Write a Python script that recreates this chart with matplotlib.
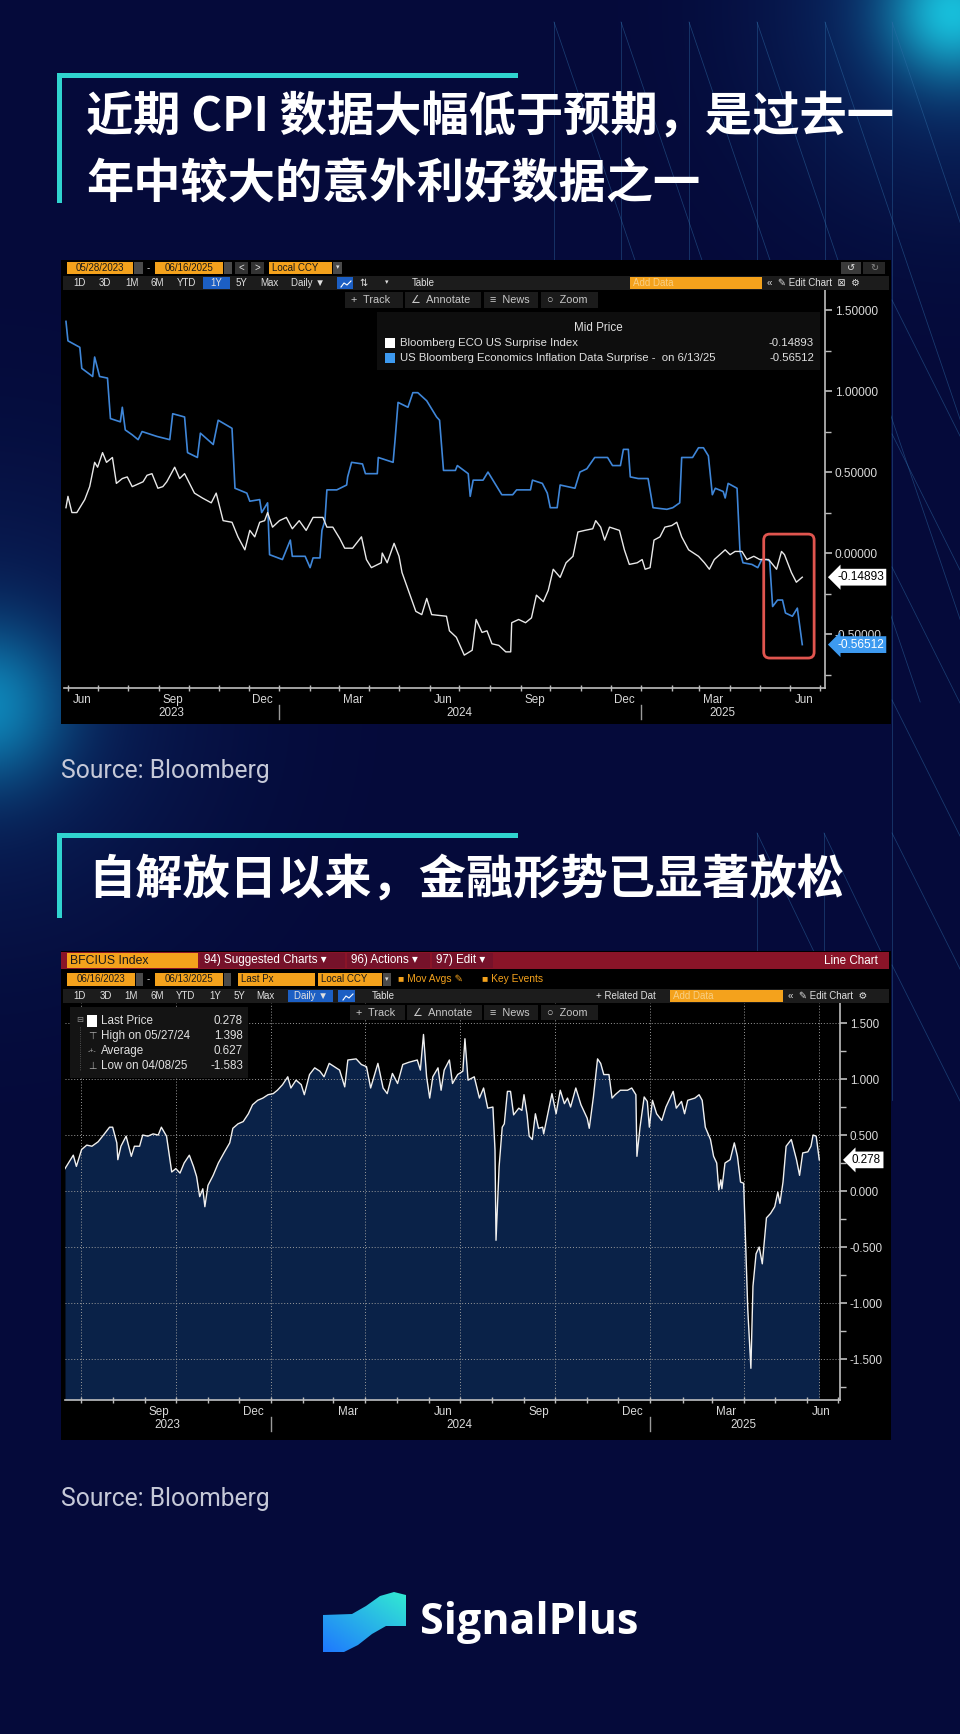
import numpy as np
import pandas as pd
import matplotlib
matplotlib.use('Agg')
import matplotlib.pyplot as plt
import matplotlib.dates as mdates
from matplotlib.patches import Rectangle, FancyBboxPatch, Polygon
from matplotlib.ticker import MultipleLocator, FormatStrFormatter, NullFormatter

plt.rcParams['font.family'] = ['Noto Sans CJK SC', 'DejaVu Sans']
UI = ['Liberation Sans', 'DejaVu Sans']

# ---------------- chart 1: surprise indices ----------------
eco_name = 'Bloomberg ECO US Surprise Index'
infl_name = 'US Bloomberg Economics Inflation Data Surprise -  on 6/13/25'
eco_dates = ['2023-05-30', '2023-06-01', '2023-06-05', '2023-06-10', '2023-06-18', '2023-06-23', '2023-06-28', '2023-07-01', '2023-07-06', '2023-07-10',
             '2023-07-16', '2023-07-20', '2023-07-26', '2023-07-31', '2023-08-05', '2023-08-16', '2023-08-20', '2023-08-25', '2023-08-31', '2023-09-05',
             '2023-09-09', '2023-09-17', '2023-09-22', '2023-09-27', '2023-10-02', '2023-10-07', '2023-10-15', '2023-10-24', '2023-10-29', '2023-11-05',
             '2023-11-14', '2023-11-20', '2023-11-27', '2023-12-02', '2023-12-07', '2023-12-12', '2023-12-17', '2023-12-20', '2023-12-25', '2024-01-01',
             '2024-01-08', '2024-01-14', '2024-01-21', '2024-01-28', '2024-02-04', '2024-02-14', '2024-02-18', '2024-02-24', '2024-03-02', '2024-03-07',
             '2024-03-15', '2024-03-24', '2024-03-29', '2024-04-03', '2024-04-13', '2024-04-14', '2024-04-19', '2024-04-26', '2024-05-01', '2024-05-04',
             '2024-05-18', '2024-05-24', '2024-05-29', '2024-06-03', '2024-06-18', '2024-06-21', '2024-06-28', '2024-07-06', '2024-07-14', '2024-07-18',
             '2024-07-24', '2024-07-29', '2024-08-03', '2024-08-10', '2024-08-17', '2024-08-22', '2024-08-23', '2024-08-30', '2024-09-06', '2024-09-12',
             '2024-09-17', '2024-09-24', '2024-09-29', '2024-10-04', '2024-10-11', '2024-10-17', '2024-10-24', '2024-10-29', '2024-11-05', '2024-11-13',
             '2024-11-16', '2024-11-21', '2024-11-25', '2024-11-30', '2024-12-10', '2024-12-15', '2024-12-20', '2024-12-28', '2025-01-02', '2025-01-05',
             '2025-01-10', '2025-01-14', '2025-01-20', '2025-01-25', '2025-02-01', '2025-02-06', '2025-02-11', '2025-02-18', '2025-02-28', '2025-03-06',
             '2025-03-11', '2025-03-16', '2025-03-27', '2025-04-01', '2025-04-06', '2025-04-13', '2025-04-18', '2025-04-25', '2025-05-01', '2025-05-10',
             '2025-05-18', '2025-05-23', '2025-05-26', '2025-06-02', '2025-06-07', '2025-06-13']
eco_vals = [0.28, 0.35, 0.25, 0.25, 0.33, 0.41, 0.56, 0.53, 0.62, 0.56,
            0.59, 0.43, 0.46, 0.47, 0.41, 0.44, 0.48, 0.49, 0.40, 0.41,
            0.44, 0.53, 0.46, 0.49, 0.43, 0.37, 0.34, 0.31, 0.37, 0.20,
            0.19, 0.10, 0.02, 0.14, 0.10, 0.19, 0.20, 0.25, 0.16, 0.20,
            0.22, 0.15, 0.20, 0.14, 0.22, 0.22, 0.16, 0.16, 0.09, 0.03,
            0.03, 0.10, -0.04, -0.09, -0.06, 0.00, -0.06, 0.06, -0.02, -0.12,
            -0.36, -0.38, -0.28, -0.38, -0.39, -0.48, -0.52, -0.63, -0.60, -0.41,
            -0.49, -0.48, -0.56, -0.57, -0.61, -0.61, -0.43, -0.41, -0.43, -0.40,
            -0.26, -0.30, -0.23, -0.10, -0.15, -0.06, -0.02, 0.13, 0.14, 0.15,
            0.20, 0.16, 0.08, 0.16, 0.14, 0.02, -0.07, -0.06, -0.04, -0.10,
            -0.09, 0.08, 0.10, 0.16, 0.17, 0.19, 0.10, 0.02, -0.02, -0.06,
            -0.10, -0.04, 0.02, -0.01, 0.01, 0.01, -0.04, -0.02, -0.04, -0.04,
            -0.10, 0.01, -0.01, -0.12, -0.18, -0.14893]

infl_dates = ['2023-05-30', '2023-06-01', '2023-06-13', '2023-06-15', '2023-06-26', '2023-06-28', '2023-07-03', '2023-07-11', '2023-07-14', '2023-07-24',
              '2023-07-26', '2023-07-29', '2023-08-05', '2023-08-11', '2023-08-15', '2023-08-30', '2023-09-12', '2023-09-15', '2023-09-27', '2023-09-30',
              '2023-10-10', '2023-10-13', '2023-10-26', '2023-10-31', '2023-11-14', '2023-11-17', '2023-11-29', '2023-12-02', '2023-12-12', '2023-12-14',
              '2023-12-20', '2023-12-22', '2024-01-04', '2024-01-12', '2024-01-14', '2024-01-27', '2024-02-01', '2024-02-04', '2024-02-11', '2024-02-13',
              '2024-02-16', '2024-02-18', '2024-02-28', '2024-03-09', '2024-03-10', '2024-03-14', '2024-03-25', '2024-03-28', '2024-04-09', '2024-04-10',
              '2024-04-25', '2024-04-27', '2024-04-30', '2024-05-10', '2024-05-15', '2024-05-20', '2024-05-29', '2024-06-08', '2024-06-11', '2024-06-15',
              '2024-06-27', '2024-06-29', '2024-07-10', '2024-07-12', '2024-07-15', '2024-07-25', '2024-07-30', '2024-08-04', '2024-08-13', '2024-08-24',
              '2024-08-28', '2024-09-11', '2024-09-13', '2024-09-23', '2024-09-28', '2024-10-01', '2024-10-08', '2024-10-11', '2024-10-26', '2024-10-31',
              '2024-11-07', '2024-11-15', '2024-11-28', '2024-12-03', '2024-12-11', '2024-12-14', '2024-12-19', '2024-12-21', '2024-12-29', '2025-01-08',
              '2025-01-13', '2025-01-27', '2025-02-02', '2025-02-09', '2025-02-11', '2025-02-22', '2025-02-28', '2025-03-05', '2025-03-10', '2025-03-14',
              '2025-03-17', '2025-03-25', '2025-03-27', '2025-03-30', '2025-04-08', '2025-04-11', '2025-04-14', '2025-04-23', '2025-04-29', '2025-05-03',
              '2025-05-08', '2025-05-11', '2025-05-14', '2025-05-19', '2025-05-24', '2025-05-27', '2025-06-03', '2025-06-08', '2025-06-13']
infl_vals = [1.43, 1.31, 1.27, 1.14, 1.09, 1.21, 1.09, 1.08, 0.83, 0.81,
             0.90, 0.76, 0.73, 0.70, 0.75, 0.72, 0.70, 0.86, 0.84, 0.62,
             0.59, 0.74, 0.67, 0.82, 0.77, 0.40, 0.37, 0.32, 0.33, 0.25,
             0.31, -0.01, -0.04, 0.08, -0.02, -0.02, -0.09, -0.03, -0.03, 0.14,
             0.20, 0.39, 0.39, 0.42, 0.47, 0.56, 0.55, 0.49, 0.49, 0.59,
             0.56, 0.70, 0.93, 0.90, 0.99, 0.99, 0.94, 0.84, 0.82, 0.51,
             0.51, 0.54, 0.49, 0.35, 0.45, 0.45, 0.50, 0.45, 0.36, 0.36,
             0.39, 0.39, 0.45, 0.43, 0.37, 0.28, 0.28, 0.42, 0.40, 0.50,
             0.52, 0.59, 0.59, 0.54, 0.54, 0.64, 0.64, 0.47, 0.46, 0.46,
             0.28, 0.27, 0.28, 0.31, 0.59, 0.59, 0.65, 0.65, 0.60, 0.36,
             0.40, 0.38, 0.34, 0.43, 0.40, 0.01, -0.06, -0.07, -0.09, -0.04,
             -0.04, -0.05, -0.33, -0.29, -0.29, -0.37, -0.39, -0.34, -0.56512]
highlight = ['2025-05-05', '2025-06-25']

# ---------------- chart 2: BFCIUS Index ----------------
bfci_dates = ['2023-06-16', '2023-06-24', '2023-06-27', '2023-07-02', '2023-07-07', '2023-07-12', '2023-07-18', '2023-07-24', '2023-07-29', '2023-08-01',
              '2023-08-05', '2023-08-06', '2023-08-09', '2023-08-14', '2023-08-19', '2023-08-22', '2023-08-27', '2023-08-30', '2023-09-04', '2023-09-09',
              '2023-09-14', '2023-09-17', '2023-09-22', '2023-09-27', '2023-10-01', '2023-10-05', '2023-10-09', '2023-10-14', '2023-10-18', '2023-10-21',
              '2023-10-24', '2023-10-27', '2023-10-29', '2023-11-01', '2023-11-06', '2023-11-11', '2023-11-17', '2023-11-22', '2023-11-25', '2023-11-30',
              '2023-12-05', '2023-12-10', '2023-12-14', '2023-12-19', '2023-12-24', '2023-12-29', '2024-01-03', '2024-01-07', '2024-01-12', '2024-01-17',
              '2024-01-20', '2024-01-25', '2024-01-30', '2024-02-02', '2024-02-07', '2024-02-12', '2024-02-17', '2024-02-21', '2024-02-26', '2024-03-02',
              '2024-03-07', '2024-03-12', '2024-03-15', '2024-03-23', '2024-03-28', '2024-04-02', '2024-04-06', '2024-04-13', '2024-04-18', '2024-04-22',
              '2024-04-27', '2024-05-02', '2024-05-07', '2024-05-13', '2024-05-21', '2024-05-24', '2024-05-27', '2024-05-30', '2024-06-02', '2024-06-05',
              '2024-06-10', '2024-06-13', '2024-06-16', '2024-06-21', '2024-06-24', '2024-06-29', '2024-07-04', '2024-07-06', '2024-07-09', '2024-07-15',
              '2024-07-20', '2024-07-24', '2024-07-28', '2024-08-02', '2024-08-04', '2024-08-05', '2024-08-08', '2024-08-11', '2024-08-13', '2024-08-16',
              '2024-08-19', '2024-08-22', '2024-08-27', '2024-08-30', '2024-09-01', '2024-09-04', '2024-09-06', '2024-09-09', '2024-09-12', '2024-09-15',
              '2024-09-19', '2024-09-20', '2024-09-24', '2024-09-28', '2024-10-02', '2024-10-06', '2024-10-10', '2024-10-13', '2024-10-16', '2024-10-21',
              '2024-10-26', '2024-11-01', '2024-11-03', '2024-11-07', '2024-11-11', '2024-11-14', '2024-11-17', '2024-11-22', '2024-11-25', '2024-11-28',
              '2024-12-03', '2024-12-10', '2024-12-14', '2024-12-18', '2024-12-19', '2024-12-22', '2024-12-26', '2024-12-29', '2024-12-31', '2025-01-03',
              '2025-01-07', '2025-01-12', '2025-01-16', '2025-01-23', '2025-01-26', '2025-01-31', '2025-02-03', '2025-02-06', '2025-02-13', '2025-02-17',
              '2025-02-20', '2025-02-23', '2025-02-28', '2025-03-03', '2025-03-06', '2025-03-08', '2025-03-10', '2025-03-11', '2025-03-14', '2025-03-19',
              '2025-03-23', '2025-03-26', '2025-03-29', '2025-04-01', '2025-04-05', '2025-04-08', '2025-04-10', '2025-04-13', '2025-04-16', '2025-04-19',
              '2025-04-23', '2025-04-27', '2025-05-01', '2025-05-04', '2025-05-06', '2025-05-09', '2025-05-12', '2025-05-17', '2025-05-22', '2025-05-25',
              '2025-05-28', '2025-06-02', '2025-06-05', '2025-06-07', '2025-06-10', '2025-06-13']
bfci_vals = [0.20, 0.32, 0.22, 0.37, 0.41, 0.40, 0.44, 0.51, 0.57, 0.57,
             0.43, 0.28, 0.40, 0.49, 0.31, 0.40, 0.40, 0.50, 0.49, 0.51,
             0.50, 0.57, 0.49, 0.17, 0.20, 0.16, 0.25, 0.32, 0.22, 0.13,
             -0.05, 0.02, -0.14, 0.05, 0.14, 0.25, 0.35, 0.43, 0.56, 0.60,
             0.62, 0.69, 0.77, 0.81, 0.83, 0.86, 0.87, 0.90, 0.95, 1.02,
             0.92, 0.99, 0.95, 0.86, 1.04, 1.10, 1.07, 1.02, 1.14, 1.11,
             1.08, 0.93, 1.17, 1.18, 1.13, 1.11, 0.92, 1.14, 0.92, 0.87,
             1.05, 0.96, 1.13, 1.15, 1.17, 1.08, 1.398, 1.02, 0.83, 1.02,
             1.10, 0.90, 1.08, 1.17, 0.96, 1.04, 1.07, 1.36, 0.99, 1.02,
             0.83, 0.92, 0.74, 0.75, 0.37, -0.44, 0.22, 0.57, 0.60, 0.89,
             0.89, 0.68, 0.74, 0.72, 0.86, 0.68, 0.49, 0.46, 0.69, 0.56,
             0.57, 0.51, 0.69, 0.87, 0.69, 0.90, 0.78, 0.83, 0.75, 0.92,
             0.77, 0.65, 0.56, 0.84, 1.18, 1.14, 1.04, 1.04, 0.83, 0.86,
             0.90, 0.90, 0.92, 0.86, 0.31, 0.57, 0.84, 0.80, 0.57, 0.81,
             0.69, 0.63, 0.75, 0.89, 0.74, 0.80, 0.69, 0.81, 0.83, 0.86,
             0.81, 0.57, 0.46, 0.31, 0.25, 0.01, 0.10, 0.02, 0.25, 0.28,
             0.43, 0.31, 0.08, 0.07, -1.06, -1.583, -0.85, -0.56, -0.50, -0.65,
             -0.24, -0.20, -0.14, -0.01, -0.11, 0.08, 0.40, 0.46, 0.28, 0.14,
             0.34, 0.35, 0.40, 0.50, 0.49, 0.278]
bfci_stats = [('Last Price', '0.278'), ('High on 05/27/24', '1.398'),
              ('Average', '0.627'), ('Low on 04/08/25', '-1.583')]

title1 = ['近期 CPI 数据大幅低于预期，是过去一', '年中较大的意外利好数据之一']
title2 = '自解放日以来，金融形势已显著放松'
source = 'Source: Bloomberg'

eco_d = pd.to_datetime(eco_dates)
infl_d = pd.to_datetime(infl_dates)
bfci_d = pd.to_datetime(bfci_dates)

W, H = 960, 1734
fig = plt.figure(figsize=(W / 100, H / 100), dpi=100)


def px_axes(x0, y0, x1, y1, z):
    return fig.add_axes([x0 / W, 1 - y1 / H, (x1 - x0) / W, (y1 - y0) / H], zorder=z)


def dn(d):
    return mdates.date2num(pd.Timestamp(d))


# ---------------- background ----------------
bg = fig.add_axes([0, 0, 1, 1], zorder=0)
yy, xx = np.mgrid[0:H, 0:W].astype(float)
img = np.empty((H, W, 3))
img[:] = np.array([5, 10, 58]) / 255


def glow(cx, cy, sig, peak, col):
    a = (peak * np.exp(-((xx - cx) ** 2 + (yy - cy) ** 2) / (2 * sig ** 2)))[..., None]
    img[:] = img * (1 - a) + np.array(col) / 255 * a


glow(955, 10, 120, 0.4, (20, 110, 190))
glow(952, 12, 45, 0.9, (25, 205, 230))
glow(-20, 705, 150, 0.3, (20, 95, 170))
glow(-15, 705, 55, 0.85, (15, 150, 200))
bg.imshow(img, extent=(0, W, H, 0), aspect='auto', interpolation='bilinear')
bg.set_xlim(0, W)
bg.set_ylim(H, 0)
bg.axis('off')

LN = dict(color='#2f6ea8', lw=0.55, alpha=0.5)
for x0 in [554, 621, 689, 757, 825]:
    bg.plot([x0, x0], [22, 260], **LN)
    bg.plot([x0, x0 + 0.34 * 680], [22, 702], **LN)
bg.plot([892, 892], [22, 1100], **LN)
bg.plot([892, 892 + 0.34 * 680], [22, 702], **LN)
for y0 in [300, 434, 567, 700, 833, 965]:
    bg.plot([892, 892 + 0.5 * 200], [y0, y0 + 200], **LN)
for x0 in [757, 824]:
    bg.plot([x0, x0], [833, 951], **LN)
    bg.plot([x0, x0 + 0.48 * 118], [833, 951], **LN)

bg.add_patch(Rectangle((61, 260), 830, 464, fc='black', zorder=3))
bg.add_patch(Rectangle((61, 951), 830, 489, fc='black', zorder=3))

# ---------------- overlay ----------------
ov = fig.add_axes([0, 0, 1, 1], zorder=5)
ov.set_xlim(0, W)
ov.set_ylim(H, 0)
ov.axis('off')
ov.patch.set_visible(False)

ORG = '#f4a21c'
GRY = '#4a4a4a'
BAR = '#1c1c1c'
BLU = '#1c5fc4'
TEAL = '#30d4cf'
RED = '#8a1428'


def box(x0, y0, x1, y1, fc, z=2):
    ov.add_patch(Rectangle((x0, y0), x1 - x0, y1 - y0, fc=fc, ec='none', zorder=z))


def lab(x, y, s, size=7, color='#e0e0e0', ha='left', weight='normal'):
    ov.text(x, y, s, fontsize=size, color=color, ha=ha, va='center', family=UI,
            fontweight=weight, zorder=4)


def chart_icon(x0, y0):
    ov.plot([x0 + 3, x0 + 6, x0 + 9, x0 + 13], [y0 + 9, y0 + 5, y0 + 7, y0 + 3],
            color='white', lw=0.8, zorder=4)


# titles
for (x0, y0, y1) in [(57, 73, 203), (57, 833, 918)]:
    ov.add_patch(Rectangle((x0, y0), 461, 5, fc=TEAL, zorder=2))
    ov.add_patch(Rectangle((x0, y0), 5, y1 - y0, fc=TEAL, zorder=2))
ov.text(86, 117, title1[0], fontsize=34, fontweight='bold', color='white', va='center')
ov.text(86, 185, title1[1], fontsize=34, fontweight='bold', color='white', va='center')
ov.text(88, 880, title2, fontsize=34, fontweight='bold', color='white', va='center')

ov.text(61, 771, source, fontsize=17.7, color='#c6c9d8', va='center', family=['Roboto', 'DejaVu Sans'])
ov.text(61, 1499, source, fontsize=17.7, color='#c6c9d8', va='center', family=['Roboto', 'DejaVu Sans'])

# chart 1 toolbar
box(67, 262, 133, 274, ORG); lab(100, 268, '05/28/2023', color='#1a1a1a', ha='center')
box(134, 262, 143, 274, GRY)
lab(148, 268, '-', ha='center')
box(155, 262, 223, 274, ORG); lab(189, 268, '06/16/2025', color='#1a1a1a', ha='center')
box(224, 262, 232, 274, GRY)
box(235, 262, 248, 274, '#333333'); lab(241.5, 268, '<', ha='center')
box(251, 262, 264, 274, '#333333'); lab(257.5, 268, '>', ha='center')
box(269, 262, 332, 274, ORG); lab(272, 268, 'Local CCY', color='#1a1a1a')
box(333, 262, 342, 274, GRY); lab(337.5, 268, '▾', ha='center', size=5)
box(841, 262, 861, 274, '#3a3a3a'); lab(851, 268, '↺', ha='center')
box(863, 262, 885, 274, '#262626'); lab(874, 268, '↻', ha='center', color='#888888')
box(63, 276, 889, 290, BAR)
for s, x in zip(['1D', '3D', '1M', '6M', 'YTD'], [79, 105, 132, 157, 187]):
    lab(x, 283, s, ha='center')
box(203, 277, 230, 289, BLU); lab(216, 283, '1Y', ha='center')
lab(241, 283, '5Y', ha='center'); lab(269, 283, 'Max', ha='center'); lab(308, 283, 'Daily ▼', ha='center')
box(337, 277, 353, 289, BLU); chart_icon(338, 278)
lab(363, 283, '⇅', ha='center'); lab(387, 283, '▾', ha='center', size=5); lab(423, 283, 'Table', ha='center')
box(630, 277, 762, 289, ORG); lab(633, 283, 'Add Data', color='#f8cf84')
lab(767, 283, '«  ✎ Edit Chart  ⊠  ⚙')
for (x0, x1, s) in [(345, 403, '+  Track'), (405, 481, '∠  Annotate'), (484, 538, '≡  News'), (541, 598, '○  Zoom')]:
    box(x0, 292, x1, 308, '#1b1b1b'); lab(x0 + 6, 300, s, size=7.8, color='#c8c8c8')

# chart 1 legend
box(377, 312, 820, 370, '#0e0e0e')
lab(598, 328, 'Mid Price', ha='center', size=8.4)
box(385, 338, 395, 348, 'white'); lab(400, 343, eco_name, size=8.2)
lab(814, 343, f'{eco_vals[-1]:.5f}', ha='right', size=8.2)
box(385, 353, 395, 363, '#3d9af0'); lab(400, 358, infl_name, size=8.2)
lab(814, 358, f'{infl_vals[-1]:.5f}', ha='right', size=8.2)

# chart 2 toolbar
box(61, 952, 889, 969, RED)
box(67, 953, 198, 968, ORG); lab(70, 960.5, 'BFCIUS Index', color='#1a1a1a', size=8.8)
for (x0, x1, s) in [(200, 345, '94) Suggested Charts ▾'), (347, 430, '96) Actions ▾'), (432, 493, '97) Edit ▾')]:
    box(x0, 953, x1, 968, '#76122a'); lab(x0 + 4, 960.5, s, size=8.4, color='white')
lab(878, 960.5, 'Line Chart', ha='right', size=8.4, color='white')
box(67, 973, 135, 986, ORG); lab(101, 979.5, '06/16/2023', color='#1a1a1a', ha='center')
box(136, 973, 143, 986, GRY)
lab(148, 979.5, '-', ha='center')
box(155, 973, 223, 986, ORG); lab(189, 979.5, '06/13/2025', color='#1a1a1a', ha='center')
box(224, 973, 231, 986, GRY)
box(238, 973, 315, 986, ORG); lab(241, 979.5, 'Last Px', color='#1a1a1a')
box(318, 973, 382, 986, ORG); lab(321, 979.5, 'Local CCY', color='#1a1a1a')
box(383, 973, 391, 986, GRY); lab(387, 979.5, '▾', ha='center', size=5)
lab(398, 979.5, '■ Mov Avgs ✎', color=ORG, size=7.4)
lab(482, 979.5, '■ Key Events', color=ORG, size=7.4)
box(63, 989, 889, 1003, BAR)
for s, x in zip(['1D', '3D', '1M', '6M', 'YTD', '1Y', '5Y', 'Max'], [80, 106, 131, 157, 186, 215, 239, 265]):
    lab(x, 996, s, ha='center')
box(288, 990, 333, 1002, BLU); lab(310.5, 996, 'Daily ▼', ha='center')
box(338, 990, 355, 1002, BLU); chart_icon(340, 991)
lab(383, 996, 'Table', ha='center')
lab(596, 996, '+ Related Dat')
box(670, 990, 783, 1002, ORG); lab(673, 996, 'Add Data', color='#f8cf84')
lab(788, 996, '«  ✎ Edit Chart  ⚙')
for (x0, x1, s) in [(350, 405, '+  Track'), (407, 482, '∠  Annotate'), (484, 538, '≡  News'), (541, 598, '○  Zoom')]:
    box(x0, 1005, x1, 1020, '#1b1b1b'); lab(x0 + 6, 1012.5, s, size=7.8, color='#c8c8c8')

# chart 2 legend
box(70, 1007, 248, 1078, '#141414')
for (name, val), y in zip(bfci_stats, [1021, 1036, 1051, 1066]):
    lab(101, y, name, size=8.4)
    lab(243, y, val, ha='right', size=8.4)
box(87, 1015, 97, 1027, 'white')
lab(76, 1021, '⊟', size=6, color='#8a8a8a')
lab(92, 1036, '⊤', ha='center', size=7, color='#aaaaaa')
lab(92, 1051, '-+-', ha='center', size=5, color='#aaaaaa')
lab(92, 1066, '⊥', ha='center', size=7, color='#aaaaaa')
ov.plot([80, 80], [1027, 1070], color='#666666', lw=0.6, ls=':', zorder=3)

# logo
icon_pts = [(323, 1615), (352, 1614), (366, 1606), (380, 1596), (394, 1592), (406, 1595), (406, 1626),
            (386, 1626), (372, 1634), (358, 1645), (344, 1652), (323, 1652)]
icon = Polygon(icon_pts, closed=True, fc='none', ec='none')
ov.add_patch(icon)
gu, gv = np.meshgrid(np.linspace(0, 1, 90), np.linspace(0, 1, 70))
gt = np.clip((gu + gv) / 2, 0, 1)[..., None]
gimg = (1 - gt) * np.array([30, 120, 255]) / 255 + gt * np.array([50, 235, 210]) / 255
gim = ov.imshow(gimg, extent=(323, 406, 1652, 1592), origin='lower', aspect='auto', zorder=3)
gim.set_clip_path(icon)
ov.set_xlim(0, W)
ov.set_ylim(H, 0)
ov.text(420, 1622, 'SignalPlus', fontsize=31, fontweight='bold', color='white', va='center',
        family=['Open Sans', 'DejaVu Sans'])


# ---------------- chart axes ----------------
def style_axes(ax, fmt, h_px, years, seps, ysize):
    ax.set_facecolor('black')
    for s in ['left', 'top']:
        ax.spines[s].set_visible(False)
    for s in ['right', 'bottom']:
        ax.spines[s].set_color('#bdbdbd')
        ax.spines[s].set_linewidth(1.2)
    ax.yaxis.tick_right()
    ax.yaxis.set_major_locator(MultipleLocator(0.5))
    ax.yaxis.set_minor_locator(MultipleLocator(0.25))
    ax.yaxis.set_major_formatter(FormatStrFormatter(fmt))
    ax.tick_params(axis='y', which='major', colors='#bdbdbd', labelcolor='#d9d9d9', labelsize=ysize,
                   length=5, width=1.2, pad=2)
    ax.tick_params(axis='y', which='minor', colors='#bdbdbd', length=4, width=1)
    ax.xaxis.set_major_locator(mdates.MonthLocator())
    ax.xaxis.set_major_formatter(NullFormatter())
    ax.xaxis.set_minor_locator(mdates.MonthLocator(bymonth=[3, 6, 9, 12], bymonthday=15))
    ax.xaxis.set_minor_formatter(mdates.DateFormatter('%b'))
    ax.tick_params(axis='x', which='major', direction='inout', length=5, colors='#bdbdbd', width=1)
    ax.tick_params(axis='x', which='minor', length=0, labelsize=8.4, labelcolor='#d9d9d9', pad=4)
    for lbl in ax.get_yticklabels() + ax.get_xticklabels(minor=True):
        lbl.set_family(UI)
    tr = ax.get_xaxis_transform()
    for d, s in years:
        ax.annotate(s, xy=(dn(d), 0), xycoords=tr, xytext=(0, -25), textcoords='offset pixels',
                    ha='center', va='center', fontsize=8.4, color='#d9d9d9', family=UI, annotation_clip=False)
    for d in seps:
        ax.plot([dn(d)] * 2, [-17 / h_px, -31 / h_px], transform=tr, color='#9a9a9a',
                lw=1, clip_on=False)


def value_tag(ax, v, text, fc, tc, size):
    ax.annotate(text, xy=(1.0, v), xycoords=('axes fraction', 'data'), xytext=(12, 0),
                textcoords='offset pixels', ha='left', va='center', fontsize=size, color=tc, family=UI,
                bbox=dict(boxstyle='larrow,pad=0.2', fc=fc, ec='none'), zorder=10, annotation_clip=False)


ax1 = px_axes(64, 283, 825, 688, 2)
ax1.plot(infl_d, infl_vals, color='#3f86d8', lw=1.2)
ax1.plot(eco_d, eco_vals, color='#e8e8e8', lw=1.0)
ax1.set_xlim(dn('2023-05-28'), dn('2025-07-06'))
ax1.set_ylim(-0.833, 1.667)
style_axes(ax1, '%.5f', 405, [('2023-09-14', '2023'), ('2024-07-01', '2024'), ('2025-03-24', '2025')],
           ['2024-01-01', '2025-01-01'], 8.6)
value_tag(ax1, eco_vals[-1], f'{eco_vals[-1]:.5f}', 'white', 'black', 8.6)
value_tag(ax1, infl_vals[-1], f'{infl_vals[-1]:.5f}', '#3d9af0', 'white', 8.6)

h0, h1 = pd.Timestamp(highlight[0]), pd.Timestamp(highlight[1])
win_lo = min(v for d, v in zip(infl_d, infl_vals) if d >= h0) - 0.083
win_hi = max(v for d, v in zip(eco_d, eco_vals) if d >= h0) + 0.107
rb = FancyBboxPatch((dn(h0), win_lo), dn(h1) - dn(h0),
                    win_hi - win_lo, boxstyle='round,pad=0,rounding_size=6', mutation_aspect=0.0062,
                    ec='#e0554f', fc='none', lw=2, zorder=6, clip_on=False)
ax1.add_patch(rb)

ax2 = px_axes(65, 1003, 840, 1400, 2)
y_floor = -1.866
ax2.fill_between(bfci_d, bfci_vals, y_floor, color='#0a2248', lw=0)
ax2.plot(bfci_d, bfci_vals, color='#f0f0f0', lw=1.0)
ax2.set_xlim(dn('2023-06-16'), dn('2025-07-03'))
ax2.set_ylim(y_floor, 1.679)
style_axes(ax2, '%.3f', 397, [('2023-09-23', '2023'), ('2024-07-01', '2024'), ('2025-04-01', '2025')],
           ['2024-01-01', '2025-01-01'], 8.4)
ax2.grid(axis='y', which='major', ls=(0, (1, 2)), color='#9a9a9a', lw=0.7)
for d in list(pd.date_range('2023-07-01', '2025-04-01', freq='QS')) + [bfci_d[-1]]:
    ax2.axvline(dn(d), ls=(0, (1, 2)), color='#9a9a9a', lw=0.7, zorder=1.5)
value_tag(ax2, bfci_vals[-1], f'{bfci_vals[-1]:.3f}', 'white', 'black', 8.4)

fig.savefig('out.png', dpi=100)
